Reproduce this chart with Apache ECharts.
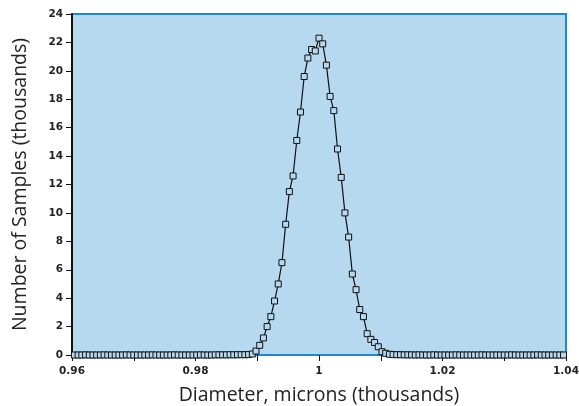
<!DOCTYPE html>
<html>
<head>
<meta charset="utf-8">
<script src="https://cdn.jsdelivr.net/npm/echarts@6/dist/echarts.min.js"></script>
<style>html,body{margin:0;padding:0;background:#fff;}#c{width:579px;height:406px;}</style>
</head>
<body>
<div id="c"></div>
<script>
// Diameter, microns (thousands)
const diameter = [
 0.9604,0.9610,0.9616,0.9622,0.9628,0.9634,0.9640,0.9646,0.9652,0.9658,
 0.9664,0.9670,0.9676,0.9682,0.9688,0.9694,0.9700,0.9706,0.9712,0.9718,
 0.9724,0.9730,0.9736,0.9742,0.9748,0.9754,0.9760,0.9766,0.9772,0.9778,
 0.9784,0.9790,0.9796,0.9802,0.9808,0.9814,0.9820,0.9826,0.9832,0.9838,
 0.9844,0.9850,0.9856,0.9862,0.9868,0.9874,0.9880,0.9886,0.9892,0.9898,
 0.9904,0.9910,0.9916,0.9922,0.9928,0.9934,0.9940,0.9946,0.9952,0.9958,
 0.9964,0.9970,0.9976,0.9982,0.9988,0.9994,
 1.0000,
 1.0006,1.0012,1.0018,1.0024,1.0030,1.0036,1.0042,1.0048,1.0054,1.0060,
 1.0066,1.0072,1.0078,1.0084,1.0090,1.0096,1.0102,1.0108,1.0114,1.0120,
 1.0126,1.0132,1.0138,1.0144,1.0150,1.0156,1.0162,1.0168,1.0174,1.0180,
 1.0186,1.0192,1.0198,1.0204,1.0210,1.0216,1.0222,1.0228,1.0234,1.0240,
 1.0246,1.0252,1.0258,1.0264,1.0270,1.0276,1.0282,1.0288,1.0294,1.0300,
 1.0306,1.0312,1.0318,1.0324,1.0330,1.0336,1.0342,1.0348,1.0354,1.0360,
 1.0366,1.0372,1.0378,1.0384,1.0390,1.0396
];
// Number of samples (thousands)
const samples = [
 0,0,0,0.01,0,0,0,0,0.01,0,
 0,0,0,0,0.01,0,0,0,0,0,
 0,0.01,0,0,0,0,0,0.01,0,0,
 0,0,0,0,0.01,0,0,0,0.01,0.01,
 0.01,0.01,0.02,0.01,0.02,0.02,0.02,0.03,0.07,0.28,
 0.68,1.2,2.0,2.7,3.8,5.0,6.5,9.2,11.5,12.6,
 15.1,17.1,19.6,20.9,21.5,21.4,
 22.3,
 21.9,20.4,18.2,17.2,14.5,12.5,10.0,8.3,5.7,4.6,
 3.2,2.7,1.5,1.1,0.88,0.58,0.23,0.12,0.05,0.03,
 0.02,0.02,0.01,0.01,0.01,0,0.01,0,0,0,
 0.01,0,0,0,0,0,0.01,0,0,0,
 0,0,0,0.01,0,0,0,0,0,0,
 0,0.01,0,0,0,0,0,0,0.01,0,
 0,0,0,0,0,0
];
const xTickLabels = ['0.96','0.98','1','1.02','1.04'];
const yTickLabels = ['0','2','4','6','8','10','12','14','16','18','20','22','24'];

const bg = '#b6d9ef';
const chart = echarts.init(document.getElementById('c'));
chart.setOption({
  animation: false,
  grid: {left: 72, right: 13, top: 14, bottom: 51, show: true, outerBoundsMode: 'none',
         containLabel: false,
         backgroundColor: bg, borderColor: '#1a8ad4', borderWidth: 2},
  xAxis: {
    type: 'value', min: 0.96, max: 1.04, interval: 0.01,
    name: 'Diameter, microns (thousands)', nameLocation: 'middle', nameGap: 30,
    nameTextStyle: {fontFamily: 'Open Sans', fontSize: 19.5, color: '#222'},
    axisLine: {show: true, onZero: false, lineStyle: {color: '#1a8ad4', width: 2}},
    axisTick: {show: true, length: 6, lineStyle: {color: '#111', width: 1}},
    splitLine: {show: false},
    axisLabel: {
      margin: 11, fontFamily: 'DejaVu Sans', fontWeight: 'bold', fontSize: 10.5, color: '#222',
      formatter: function (v) {
        for (const t of xTickLabels) { if (Math.abs(parseFloat(t) - v) < 1e-6) return t; }
        return '';
      }
    }
  },
  yAxis: {
    type: 'value', min: 0, max: 24, interval: 2,
    name: 'Number of Samples (thousands)', nameLocation: 'middle', nameGap: 42,
    nameTextStyle: {fontFamily: 'Open Sans', fontSize: 19.5, color: '#222'},
    axisLine: {show: true, lineStyle: {color: '#111', width: 2}},
    axisTick: {show: true, length: 6, lineStyle: {color: '#111', width: 1}},
    splitLine: {show: false},
    axisLabel: {
      margin: 9, fontFamily: 'DejaVu Sans', fontWeight: 'bold', fontSize: 10.5, color: '#222',
      formatter: function (v) {
        const s = String(Math.round(v));
        return yTickLabels.indexOf(s) >= 0 ? s : '';
      }
    }
  },
  series: [{
    type: 'line',
    data: diameter.map((d, i) => [d, samples[i]]),
    symbol: 'rect', symbolSize: 6, showAllSymbol: true,
    lineStyle: {color: '#111', width: 1.2},
    itemStyle: {color: bg, borderColor: '#111', borderWidth: 1},
    clip: false
  }]
});
</script>
</body>
</html>
